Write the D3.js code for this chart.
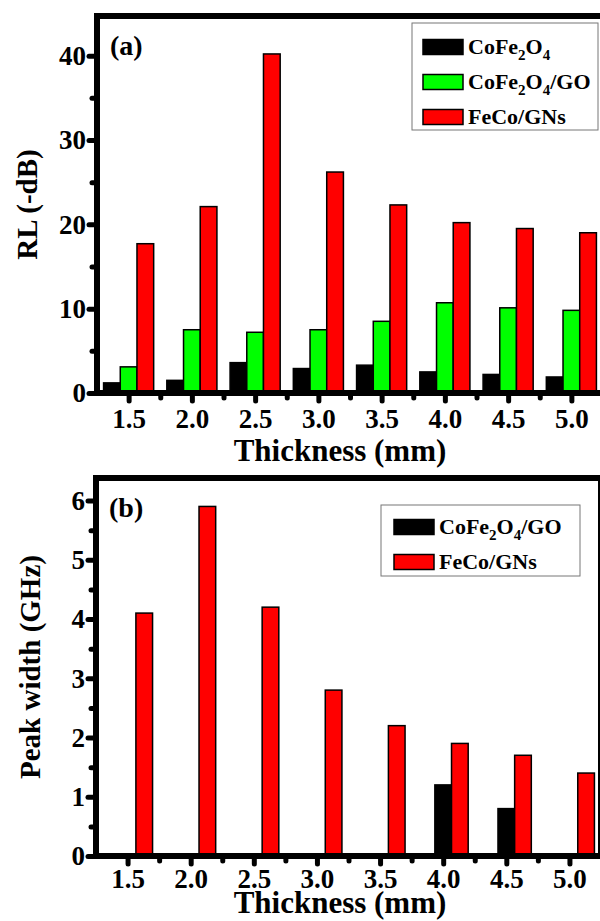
<!DOCTYPE html>
<html>
<head>
<meta charset="utf-8">
<script src="https://cdn.jsdelivr.net/npm/d3@7"></script>
<style>
  body { margin: 0; background: #fff; }
  svg text { font-weight: bold; fill: #000; }
</style>
</head>
<body>
<div id="chart"></div>
<script>
// thickness (mm) categories
var thickness = [1.5, 2.0, 2.5, 3.0, 3.5, 4.0, 4.5, 5.0];
var minorX = [1.75, 2.25, 2.75, 3.25, 3.75, 4.25, 4.75];

// panel (a): RL (-dB)
var rlCoFe2O4   = [1.2, 1.5, 3.6, 2.9, 3.3, 2.5, 2.2, 1.9];
var rlCoFe2O4GO = [3.1, 7.5, 7.2, 7.5, 8.5, 10.7, 10.1, 9.8];
var rlFeCoGNs   = [17.7, 22.1, 40.2, 26.2, 22.3, 20.2, 19.5, 19.0];
var rlTicks = [0, 10, 20, 30, 40];
var rlMinor = [5, 15, 25, 35];

// panel (b): peak width (GHz)
var pwCoFe2O4GO = [null, null, null, null, null, 1.2, 0.8, null];
var pwFeCoGNs   = [4.1, 5.9, 4.2, 2.8, 2.2, 1.9, 1.7, 1.4];
var pwTicks = [0, 1, 2, 3, 4, 5, 6];
var pwMinor = [0.5, 1.5, 2.5, 3.5, 4.5, 5.5];

var FONT = "Liberation Serif";

var width = 600, height = 921;

var svg = d3.select("#chart")
  .append("svg")
  .attr("width", width)
  .attr("height", height)
  .attr("font-family", FONT);

function legendLabel(txt, parts) {
  // parts: [string, isSub]; the shift goes on the next tspan that has text
  var shift = 0;
  parts.forEach(function(p) {
    var ts = txt.append("tspan").text(p[0]);
    if (p[1]) {
      ts.attr("font-size", 15).attr("dy", 6 - shift);
      shift = 6;
    } else {
      ts.attr("dy", -shift);
      shift = 0;
    }
  });
}

function drawPanel(o) {
  var g = svg.append("g");

  var x = d3.scaleLinear().domain([1.25, 5.25]).range([o.left, o.right]);
  var y = d3.scaleLinear().domain([0, o.ymax]).range([o.bottom, o.top]);

  var bw = x(1.5 + 0.132) - x(1.5);
  var slot = d3.scaleBand().domain([0, 1, 2]).range([-1.5 * bw, 1.5 * bw]);

  // bars
  o.series.forEach(function(s) {
    var rows = thickness.map(function(t, i) { return { t: t, v: s.values[i] }; })
      .filter(function(d) { return d.v != null; });
    g.append("g").selectAll("rect")
      .data(rows)
      .enter()
      .append("rect")
      .attr("x", function(d) { return x(d.t) + slot(s.slot); })
      .attr("width", slot.bandwidth())
      .attr("y", function(d) { return y(d.v); })
      .attr("height", function(d) { return y(0) - y(d.v); })
      .attr("fill", s.color)
      .attr("stroke", "#000")
      .attr("stroke-width", 1.5);
  });

  // frame
  g.append("rect")
    .attr("x", o.left).attr("y", o.top)
    .attr("width", o.right - o.left).attr("height", o.bottom - o.top)
    .attr("fill", "none").attr("stroke", "#000").attr("stroke-width", 6);

  // x axis major + minor
  var xMajor = g.append("g")
    .attr("transform", "translate(0," + (o.bottom + 3) + ")")
    .call(d3.axisBottom(x).tickValues(thickness).tickSize(5).tickFormat(d3.format(".1f")));
  var xMinor = g.append("g")
    .attr("transform", "translate(0," + (o.bottom + 3) + ")")
    .call(d3.axisBottom(x).tickValues(minorX).tickSize(2).tickFormat(""));

  var yMajor = g.append("g")
    .attr("transform", "translate(" + (o.left - 3) + ",0)")
    .call(d3.axisLeft(y).tickValues(o.yTicks).tickSize(5).tickFormat(d3.format("d")));
  var yMinor = g.append("g")
    .attr("transform", "translate(" + (o.left - 3) + ",0)")
    .call(d3.axisLeft(y).tickValues(o.yMinor).tickSize(2).tickFormat(""));

  [xMajor, xMinor, yMajor, yMinor].forEach(function(a) {
    a.attr("font-family", FONT);
    a.select(".domain").remove();
    a.selectAll(".tick line")
      .attr("stroke", "#000")
      .attr("stroke-width", 5)
      .attr("stroke-linecap", "round");
  });

  xMajor.selectAll(".tick text")
    .attr("y", o.xLabelDy).attr("dy", null)
    .attr("font-size", 27);
  yMajor.selectAll(".tick text")
    .attr("x", -8).attr("dy", "0.33em")
    .attr("font-size", 27);

  // panel label
  g.append("text")
    .attr("x", o.left + 13).attr("y", o.top + 39)
    .attr("font-size", 28)
    .text(o.label);

  // axis titles
  g.append("text")
    .attr("x", 340).attr("y", o.xTitleY)
    .attr("text-anchor", "middle")
    .attr("font-size", 31)
    .text("Thickness (mm)");

  g.append("text")
    .attr("transform", "translate(" + o.yTitleX + "," + ((o.top + o.bottom) / 2) + ") rotate(-90)")
    .attr("text-anchor", "middle")
    .attr("font-size", 29)
    .text(o.yTitle);

  // legend
  var L = o.legend;
  g.append("rect")
    .attr("x", L.x).attr("y", L.y).attr("width", L.w).attr("height", L.h)
    .attr("fill", "#fff").attr("stroke", "#777").attr("stroke-width", 1);
  L.items.forEach(function(it, i) {
    var cy = L.y + L.first + i * L.step;
    g.append("rect")
      .attr("x", L.x + L.pad).attr("y", cy - 7.5)
      .attr("width", 40).attr("height", 15)
      .attr("fill", it.color).attr("stroke", "#000").attr("stroke-width", 1.5);
    var t = g.append("text")
      .attr("x", L.x + L.pad + 45).attr("y", cy + 7)
      .attr("font-size", 22);
    legendLabel(t, it.parts);
  });
}

var nameCoFe2O4 = [["CoFe", false], ["2", true], ["O", false], ["4", true]];
var nameCoFe2O4GO = [["CoFe", false], ["2", true], ["O", false], ["4", true], ["/GO", false]];
var nameFeCoGNs = [["FeCo/GNs", false]];

drawPanel({
  left: 97, right: 603, top: 16, bottom: 393, ymax: 44.7,
  yTicks: rlTicks, yMinor: rlMinor, xLabelDy: 32,
  label: "(a)", yTitle: "RL (-dB)", yTitleX: 37, xTitleY: 461,
  series: [
    { values: rlCoFe2O4, color: "#000000", slot: 0 },
    { values: rlCoFe2O4GO, color: "#00ff00", slot: 1 },
    { values: rlFeCoGNs, color: "#ff0000", slot: 2 }
  ],
  legend: {
    x: 412, y: 23, w: 186, h: 107, pad: 11, first: 24, step: 35,
    items: [
      { color: "#000000", parts: nameCoFe2O4 },
      { color: "#00ff00", parts: nameCoFe2O4GO },
      { color: "#ff0000", parts: nameFeCoGNs }
    ]
  }
});

drawPanel({
  left: 96, right: 601, top: 478, bottom: 856, ymax: 6.38,
  yTicks: pwTicks, yMinor: pwMinor, xLabelDy: 29,
  label: "(b)", yTitle: "Peak width (GHz)", yTitleX: 40, xTitleY: 913,
  series: [
    { values: pwCoFe2O4GO, color: "#000000", slot: 1 },
    { values: pwFeCoGNs, color: "#ff0000", slot: 2 }
  ],
  legend: {
    x: 381, y: 505, w: 199, h: 71, pad: 13, first: 22, step: 35,
    items: [
      { color: "#000000", parts: nameCoFe2O4GO },
      { color: "#ff0000", parts: nameFeCoGNs }
    ]
  }
});
</script>
</body>
</html>
